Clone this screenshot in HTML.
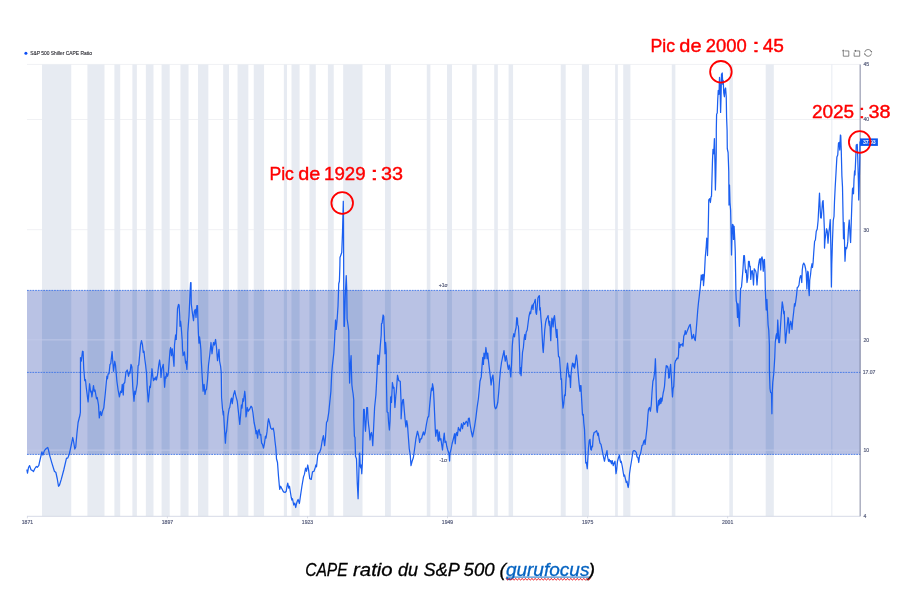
<!DOCTYPE html>
<html><head><meta charset="utf-8"><title>CAPE ratio du S&amp;P 500</title>
<style>html,body{margin:0;padding:0;background:#fff;}body{width:912px;height:601px;overflow:hidden;font-family:"Liberation Sans",sans-serif;}svg{display:block;will-change:transform;}text{font-family:"Liberation Sans",sans-serif;}</style></head><body>
<svg width="912" height="601" viewBox="0 0 912 601">
<rect width="912" height="601" fill="#fff"/>
<line x1="27.0" x2="860.3" y1="64.4" y2="64.4" stroke="#f0f1f4" stroke-width="1"/>
<line x1="27.0" x2="860.3" y1="119.5" y2="119.5" stroke="#f0f1f4" stroke-width="1"/>
<line x1="27.0" x2="860.3" y1="229.7" y2="229.7" stroke="#f0f1f4" stroke-width="1"/>
<line x1="27.0" x2="860.3" y1="339.9" y2="339.9" stroke="#f0f1f4" stroke-width="1"/>
<line x1="27.0" x2="860.3" y1="450.1" y2="450.1" stroke="#f0f1f4" stroke-width="1"/>
<g>
<rect x="42.02" y="64.4" width="29.22" height="451.9" fill="#e7ebf2"/>
<rect x="87.42" y="64.4" width="17.08" height="451.9" fill="#e7ebf2"/>
<rect x="114.39" y="64.4" width="5.84" height="451.9" fill="#e7ebf2"/>
<rect x="132.37" y="64.4" width="4.49" height="451.9" fill="#e7ebf2"/>
<rect x="145.85" y="64.4" width="7.64" height="451.9" fill="#e7ebf2"/>
<rect x="161.59" y="64.4" width="8.09" height="451.9" fill="#e7ebf2"/>
<rect x="180.46" y="64.4" width="8.09" height="451.9" fill="#e7ebf2"/>
<rect x="198.00" y="64.4" width="10.34" height="451.9" fill="#e7ebf2"/>
<rect x="223.17" y="64.4" width="5.84" height="451.9" fill="#e7ebf2"/>
<rect x="237.55" y="64.4" width="10.79" height="451.9" fill="#e7ebf2"/>
<rect x="253.73" y="64.4" width="10.34" height="451.9" fill="#e7ebf2"/>
<rect x="283.85" y="64.4" width="3.15" height="451.9" fill="#e7ebf2"/>
<rect x="291.49" y="64.4" width="8.09" height="451.9" fill="#e7ebf2"/>
<rect x="309.47" y="64.4" width="6.29" height="451.9" fill="#e7ebf2"/>
<rect x="327.90" y="64.4" width="5.84" height="451.9" fill="#e7ebf2"/>
<rect x="343.18" y="64.4" width="19.33" height="451.9" fill="#e7ebf2"/>
<rect x="384.99" y="64.4" width="5.84" height="451.9" fill="#e7ebf2"/>
<rect x="426.79" y="64.4" width="3.60" height="451.9" fill="#e7ebf2"/>
<rect x="447.02" y="64.4" width="4.94" height="451.9" fill="#e7ebf2"/>
<rect x="472.19" y="64.4" width="4.49" height="451.9" fill="#e7ebf2"/>
<rect x="494.22" y="64.4" width="3.60" height="451.9" fill="#e7ebf2"/>
<rect x="508.60" y="64.4" width="4.49" height="451.9" fill="#e7ebf2"/>
<rect x="560.74" y="64.4" width="4.94" height="451.9" fill="#e7ebf2"/>
<rect x="581.87" y="64.4" width="7.19" height="451.9" fill="#e7ebf2"/>
<rect x="615.13" y="64.4" width="2.70" height="451.9" fill="#e7ebf2"/>
<rect x="623.22" y="64.4" width="7.19" height="451.9" fill="#e7ebf2"/>
<rect x="671.77" y="64.4" width="3.60" height="451.9" fill="#e7ebf2"/>
<rect x="729.30" y="64.4" width="3.60" height="451.9" fill="#e7ebf2"/>
<rect x="765.71" y="64.4" width="8.09" height="451.9" fill="#e7ebf2"/>
<rect x="831.34" y="64.4" width="1.00" height="451.9" fill="#e7ebf2"/>
</g>
<rect x="27.0" y="290.4" width="833.3" height="164.0" fill="#b9c2e4"/>
<rect x="42.02" y="290.4" width="29.22" height="164.0" fill="#a4b4dc"/>
<rect x="87.42" y="290.4" width="17.08" height="164.0" fill="#a4b4dc"/>
<rect x="114.39" y="290.4" width="5.84" height="164.0" fill="#a4b4dc"/>
<rect x="132.37" y="290.4" width="4.49" height="164.0" fill="#a4b4dc"/>
<rect x="145.85" y="290.4" width="7.64" height="164.0" fill="#a4b4dc"/>
<rect x="161.59" y="290.4" width="8.09" height="164.0" fill="#a4b4dc"/>
<rect x="180.46" y="290.4" width="8.09" height="164.0" fill="#a4b4dc"/>
<rect x="198.00" y="290.4" width="10.34" height="164.0" fill="#a4b4dc"/>
<rect x="223.17" y="290.4" width="5.84" height="164.0" fill="#a4b4dc"/>
<rect x="237.55" y="290.4" width="10.79" height="164.0" fill="#a4b4dc"/>
<rect x="253.73" y="290.4" width="10.34" height="164.0" fill="#a4b4dc"/>
<rect x="283.85" y="290.4" width="3.15" height="164.0" fill="#a4b4dc"/>
<rect x="291.49" y="290.4" width="8.09" height="164.0" fill="#a4b4dc"/>
<rect x="309.47" y="290.4" width="6.29" height="164.0" fill="#a4b4dc"/>
<rect x="327.90" y="290.4" width="5.84" height="164.0" fill="#a4b4dc"/>
<rect x="343.18" y="290.4" width="19.33" height="164.0" fill="#a4b4dc"/>
<rect x="384.99" y="290.4" width="5.84" height="164.0" fill="#a4b4dc"/>
<rect x="426.79" y="290.4" width="3.60" height="164.0" fill="#a4b4dc"/>
<rect x="447.02" y="290.4" width="4.94" height="164.0" fill="#a4b4dc"/>
<rect x="472.19" y="290.4" width="4.49" height="164.0" fill="#a4b4dc"/>
<rect x="494.22" y="290.4" width="3.60" height="164.0" fill="#a4b4dc"/>
<rect x="508.60" y="290.4" width="4.49" height="164.0" fill="#a4b4dc"/>
<rect x="560.74" y="290.4" width="4.94" height="164.0" fill="#a4b4dc"/>
<rect x="581.87" y="290.4" width="7.19" height="164.0" fill="#a4b4dc"/>
<rect x="615.13" y="290.4" width="2.70" height="164.0" fill="#a4b4dc"/>
<rect x="623.22" y="290.4" width="7.19" height="164.0" fill="#a4b4dc"/>
<rect x="671.77" y="290.4" width="3.60" height="164.0" fill="#a4b4dc"/>
<rect x="729.30" y="290.4" width="3.60" height="164.0" fill="#a4b4dc"/>
<rect x="765.71" y="290.4" width="8.09" height="164.0" fill="#a4b4dc"/>
<rect x="831.34" y="290.4" width="1.00" height="164.0" fill="#a4b4dc"/>
<line x1="27.0" x2="860.3" y1="339.9" y2="339.9" stroke="#c2cae9" stroke-width="0.9"/>
<line x1="27.0" x2="860.3" y1="450.1" y2="450.1" stroke="#c2cae9" stroke-width="0.9"/>
<line x1="27.0" x2="860.3" y1="290.4" y2="290.4" stroke="#3d74e6" stroke-width="0.9" stroke-dasharray="1.75 0.96"/>
<line x1="27.0" x2="860.3" y1="372.4" y2="372.4" stroke="#3d74e6" stroke-width="0.9" stroke-dasharray="1.75 0.96"/>
<line x1="27.0" x2="860.3" y1="454.4" y2="454.4" stroke="#3d74e6" stroke-width="0.9" stroke-dasharray="1.75 0.96"/>
<line x1="27.0" x2="860.3" y1="516.3" y2="516.3" stroke="#d6dae6" stroke-width="1"/>
<line x1="860.2" x2="860.2" y1="64.4" y2="516.3" stroke="#666c8c" stroke-opacity="0.62" stroke-width="1.3"/>
<line x1="27.4" x2="27.4" y1="516.3" y2="518.3" stroke="#c9cddb" stroke-width="0.7"/>
<text x="27.4" y="524.2" font-size="5.1" fill="#5a607e" stroke="#5a607e" stroke-width="0.18" text-anchor="middle">1871</text>
<line x1="167.4" x2="167.4" y1="516.3" y2="518.3" stroke="#c9cddb" stroke-width="0.7"/>
<text x="167.4" y="524.2" font-size="5.1" fill="#5a607e" stroke="#5a607e" stroke-width="0.18" text-anchor="middle">1897</text>
<line x1="307.5" x2="307.5" y1="516.3" y2="518.3" stroke="#c9cddb" stroke-width="0.7"/>
<text x="307.5" y="524.2" font-size="5.1" fill="#5a607e" stroke="#5a607e" stroke-width="0.18" text-anchor="middle">1923</text>
<line x1="447.5" x2="447.5" y1="516.3" y2="518.3" stroke="#c9cddb" stroke-width="0.7"/>
<text x="447.5" y="524.2" font-size="5.1" fill="#5a607e" stroke="#5a607e" stroke-width="0.18" text-anchor="middle">1949</text>
<line x1="587.6" x2="587.6" y1="516.3" y2="518.3" stroke="#c9cddb" stroke-width="0.7"/>
<text x="587.6" y="524.2" font-size="5.1" fill="#5a607e" stroke="#5a607e" stroke-width="0.18" text-anchor="middle">1975</text>
<line x1="727.6" x2="727.6" y1="516.3" y2="518.3" stroke="#c9cddb" stroke-width="0.7"/>
<text x="727.6" y="524.2" font-size="5.1" fill="#5a607e" stroke="#5a607e" stroke-width="0.18" text-anchor="middle">2001</text>
<text x="863.5" y="66.2" font-size="5.1" fill="#5a607e" stroke="#5a607e" stroke-width="0.18">45</text>
<text x="863.5" y="121.3" font-size="5.1" fill="#5a607e" stroke="#5a607e" stroke-width="0.18">40</text>
<text x="863.5" y="231.5" font-size="5.1" fill="#5a607e" stroke="#5a607e" stroke-width="0.18">30</text>
<text x="863.5" y="341.7" font-size="5.1" fill="#5a607e" stroke="#5a607e" stroke-width="0.18">20</text>
<text x="863.5" y="451.9" font-size="5.1" fill="#5a607e" stroke="#5a607e" stroke-width="0.18">10</text>
<text x="863.5" y="518.0" font-size="5.1" fill="#5a607e" stroke="#5a607e" stroke-width="0.18">4</text>
<text x="862.7" y="374.2" font-size="5.1" fill="#5a607e" stroke="#5a607e" stroke-width="0.18">17.07</text>
<text x="438.7" y="287.3" font-size="5.1" fill="#5a607e" stroke="#5a607e" stroke-width="0.18">+1σ</text>
<text x="439.4" y="461.6" font-size="5.1" fill="#5a607e" stroke="#5a607e" stroke-width="0.18">-1σ</text>
<path d="M26.90,470.00 L27.50,473.10 L28.50,467.50 L29.60,465.60 L31.00,469.75 L32.50,470.60 L33.50,471.50 L34.75,468.75 L36.25,466.50 L37.25,467.25 L38.75,465.60 L40.00,460.00 L41.90,451.90 L42.90,455.00 L44.40,450.60 L46.25,448.50 L47.75,447.50 L48.50,450.00 L49.75,455.60 L51.90,463.10 L54.40,471.25 L55.90,472.50 L57.25,478.75 L58.50,486.25 L59.50,485.00 L61.25,479.40 L63.75,470.00 L66.50,458.10 L67.75,458.10 L69.40,453.75 L71.25,445.00 L72.75,437.50 L73.75,442.50 L74.75,449.00 L75.75,446.90 L76.90,433.75 L78.10,422.50 L80.00,415.00 L80.40,412.00 L80.50,357.50 L81.25,361.25 L82.50,351.25 L83.10,351.50 L83.75,368.75 L84.75,380.60 L85.50,379.75 L86.25,387.50 L88.10,401.90 L89.60,383.75 L90.60,391.90 L91.25,391.25 L91.90,396.90 L93.50,385.60 L94.25,391.25 L95.00,390.00 L96.50,398.75 L97.25,397.50 L98.50,405.00 L99.30,418.00 L100.40,411.50 L101.50,415.50 L102.50,411.25 L103.75,408.10 L105.25,393.75 L106.90,376.25 L107.50,378.75 L108.10,373.75 L109.00,373.75 L110.00,364.40 L110.75,363.75 L112.10,351.50 L113.50,371.25 L114.75,361.25 L115.50,365.00 L116.90,381.25 L118.10,390.00 L119.40,396.90 L120.60,391.25 L121.50,392.50 L122.25,384.40 L123.25,395.00 L123.75,383.75 L124.75,382.50 L126.00,371.90 L127.25,370.00 L128.50,376.25 L129.50,371.90 L130.00,373.10 L131.00,364.40 L131.90,366.90 L132.75,386.25 L134.00,401.25 L134.75,391.25 L135.25,394.40 L136.25,389.40 L137.25,383.75 L138.10,365.60 L138.75,365.00 L139.75,353.75 L140.60,344.40 L141.50,340.60 L142.50,345.00 L143.25,352.50 L144.00,351.25 L144.75,358.75 L145.60,365.00 L146.50,373.10 L147.25,388.75 L148.25,401.90 L149.00,395.00 L149.75,386.25 L150.40,387.50 L151.25,377.50 L152.00,368.75 L152.75,376.25 L153.50,380.60 L154.40,378.10 L155.00,379.75 L155.90,376.90 L156.50,380.00 L157.50,375.00 L158.75,365.00 L159.60,360.00 L160.40,366.90 L161.00,377.50 L161.90,368.75 L163.25,364.40 L164.00,376.25 L164.60,387.25 L165.40,376.90 L166.00,378.10 L166.60,373.10 L167.50,376.25 L168.25,373.75 L169.10,362.50 L170.00,350.60 L170.60,347.50 L171.50,355.60 L172.25,348.75 L173.10,356.25 L174.00,366.25 L174.50,345.00 L175.60,335.00 L176.25,339.40 L176.90,325.00 L177.50,308.75 L178.50,304.40 L179.10,305.00 L179.75,316.25 L180.00,326.25 L180.60,321.25 L181.25,327.50 L182.25,341.25 L182.50,348.75 L183.10,355.60 L184.40,351.90 L185.60,363.10 L186.00,361.25 L186.90,369.40 L187.50,356.25 L187.75,332.50 L189.00,316.25 L190.00,293.75 L190.60,282.50 L191.00,282.50 L191.25,303.75 L192.50,313.75 L193.50,320.60 L194.40,311.25 L195.25,309.40 L196.00,317.50 L196.90,305.60 L197.50,305.60 L197.90,318.75 L198.40,333.75 L199.00,343.10 L199.50,336.90 L200.25,342.50 L200.90,350.00 L201.25,360.00 L202.25,377.50 L203.10,391.25 L204.10,384.40 L205.00,394.40 L205.75,390.00 L206.50,389.40 L207.50,380.00 L208.50,365.00 L209.75,355.00 L211.00,342.50 L212.00,353.75 L212.75,347.50 L213.50,342.50 L214.40,345.00 L215.60,339.50 L216.50,347.50 L217.50,360.60 L219.00,349.40 L219.60,361.25 L220.60,366.25 L221.25,372.50 L221.60,397.50 L222.50,408.75 L223.25,415.00 L223.50,411.25 L224.50,428.75 L225.40,443.10 L226.00,433.75 L226.60,431.25 L227.90,416.25 L229.10,408.75 L229.75,407.50 L231.00,399.40 L231.60,398.10 L232.25,403.75 L233.50,395.00 L234.75,390.60 L235.75,395.60 L237.25,401.25 L238.50,412.50 L239.75,424.40 L240.60,415.00 L241.40,405.00 L242.00,408.10 L242.90,398.75 L243.50,401.25 L244.75,391.25 L245.40,397.50 L246.00,416.90 L246.60,413.75 L247.25,407.50 L248.25,411.25 L249.50,409.40 L251.00,406.25 L252.00,407.50 L252.90,412.50 L254.10,422.50 L255.40,428.75 L256.00,433.75 L256.60,430.60 L257.60,438.10 L258.25,431.25 L259.10,429.40 L260.00,435.00 L260.75,434.40 L261.60,443.10 L262.50,444.40 L263.50,448.10 L264.50,443.10 L265.40,436.25 L266.00,438.10 L267.00,431.90 L267.90,422.50 L268.50,418.75 L269.50,422.50 L270.75,428.10 L272.00,429.40 L273.25,428.10 L274.10,432.50 L275.00,441.25 L275.90,448.75 L276.50,458.75 L277.50,462.50 L278.50,476.25 L279.40,486.25 L279.75,489.40 L280.60,486.25 L281.90,488.75 L283.50,491.90 L285.00,492.50 L286.25,491.25 L286.90,486.90 L287.75,483.10 L288.75,488.10 L289.50,486.25 L290.25,491.25 L291.25,497.50 L291.90,500.00 L292.50,498.75 L293.75,505.00 L294.75,503.10 L295.75,507.50 L296.50,503.75 L297.25,501.25 L298.10,499.40 L299.40,503.50 L300.60,495.00 L301.90,486.25 L303.50,476.90 L304.40,474.40 L305.60,468.10 L306.50,471.25 L307.75,465.00 L308.50,469.40 L309.75,478.75 L311.25,479.40 L312.50,471.90 L314.00,471.25 L315.25,467.50 L315.90,465.00 L316.50,466.90 L317.75,455.00 L318.75,453.10 L319.60,452.50 L320.90,448.75 L322.10,441.25 L323.40,435.60 L324.60,445.60 L325.50,437.50 L326.50,422.50 L327.50,420.60 L328.75,412.50 L329.00,410.00 L330.90,391.25 L331.75,372.50 L332.50,364.40 L333.75,353.75 L334.50,342.00 L335.50,320.00 L336.25,329.40 L337.10,320.00 L338.00,306.25 L338.75,283.75 L339.40,281.25 L339.90,265.00 L340.00,257.50 L340.90,255.00 L341.75,252.50 L342.50,232.50 L343.30,201.25 L343.50,220.00 L343.75,290.00 L344.00,326.25 L344.40,326.25 L345.25,296.25 L346.25,275.60 L346.75,290.00 L347.10,318.75 L348.00,325.00 L348.75,331.25 L349.00,351.25 L349.60,383.10 L350.25,366.25 L351.10,355.60 L351.50,372.50 L351.90,385.00 L352.50,390.00 L353.10,393.75 L353.75,400.00 L353.75,416.25 L354.40,436.25 L355.00,437.50 L355.50,456.25 L356.50,458.75 L357.25,482.50 L358.10,498.75 L358.75,476.25 L359.40,453.75 L359.75,453.10 L360.25,466.25 L360.90,468.10 L361.25,465.00 L361.75,473.75 L362.40,462.50 L363.00,435.00 L363.60,409.40 L364.25,409.40 L365.00,425.00 L365.50,431.25 L366.25,418.75 L366.75,407.50 L367.50,407.50 L368.00,418.75 L368.60,425.00 L369.25,430.00 L370.00,440.00 L370.90,433.75 L371.50,432.50 L372.10,436.25 L372.75,445.60 L373.75,425.00 L374.60,407.50 L375.90,395.00 L376.90,376.25 L377.75,355.00 L378.40,355.60 L378.75,364.40 L379.40,358.75 L380.25,346.25 L381.20,335.00 L381.50,323.75 L382.10,323.10 L383.10,315.00 L383.75,316.25 L384.25,330.00 L385.00,353.75 L385.60,342.50 L386.25,351.25 L386.50,385.00 L386.90,405.00 L387.10,411.90 L388.00,412.50 L388.60,422.50 L389.40,430.00 L390.00,421.25 L390.50,406.25 L390.60,397.50 L391.25,396.25 L391.50,402.50 L392.40,382.50 L393.40,388.10 L394.00,387.50 L394.90,407.50 L395.90,395.00 L396.25,392.50 L397.50,375.25 L398.75,380.60 L400.25,381.25 L401.10,402.50 L401.10,418.75 L401.90,406.25 L402.75,400.00 L403.40,399.40 L404.25,410.00 L405.00,418.75 L405.90,426.90 L406.75,420.60 L407.50,425.00 L408.40,437.50 L409.25,448.75 L410.25,455.00 L411.00,465.60 L412.10,461.25 L413.40,457.50 L414.60,448.75 L415.90,438.75 L417.50,431.25 L418.75,436.25 L419.60,442.50 L420.50,438.75 L421.50,438.75 L422.50,435.00 L423.40,431.90 L424.25,435.00 L425.00,433.10 L426.50,423.75 L427.75,417.50 L428.75,416.25 L429.60,406.25 L430.90,392.50 L431.50,388.10 L432.10,390.50 L432.50,383.75 L433.40,388.50 L434.00,400.00 L434.60,413.75 L435.25,428.75 L435.75,436.25 L436.50,430.00 L437.10,432.50 L437.50,430.00 L438.00,440.00 L438.50,441.25 L439.25,431.90 L440.00,440.00 L440.90,438.75 L441.75,445.00 L442.50,450.00 L443.40,440.00 L444.25,433.10 L445.00,442.50 L445.90,441.25 L446.75,446.25 L447.75,450.00 L449.00,453.75 L449.60,461.00 L450.00,453.10 L450.90,450.00 L452.10,443.75 L453.40,438.75 L454.60,433.75 L455.25,443.75 L456.00,433.75 L456.75,432.50 L457.40,435.60 L458.40,427.50 L459.25,429.40 L460.25,431.25 L461.50,423.75 L462.50,428.75 L463.50,422.50 L464.60,424.40 L466.25,421.25 L467.10,422.50 L467.75,426.25 L468.40,418.50 L469.25,418.10 L470.00,423.75 L471.25,431.25 L472.50,436.90 L473.40,432.50 L474.60,426.25 L475.90,417.50 L477.10,407.50 L478.40,398.75 L479.25,390.00 L480.00,381.25 L481.25,376.90 L482.10,365.00 L482.75,357.50 L483.40,364.40 L484.00,353.10 L484.90,358.75 L485.90,347.50 L486.50,352.50 L487.10,358.75 L487.75,353.10 L488.40,360.00 L489.25,367.50 L490.25,376.25 L491.10,385.00 L492.10,377.50 L493.00,375.00 L493.75,385.00 L494.00,397.50 L494.60,406.25 L495.50,408.75 L496.50,407.50 L497.75,402.50 L498.75,392.00 L499.60,380.00 L500.50,370.00 L501.50,362.50 L502.50,357.50 L503.40,353.75 L504.00,350.60 L504.60,356.25 L505.25,361.25 L506.25,355.60 L506.90,360.00 L507.75,366.25 L508.40,369.40 L509.25,365.00 L510.00,368.75 L510.75,376.90 L511.50,365.00 L512.25,346.25 L513.00,337.50 L513.75,333.75 L514.50,336.90 L515.25,331.25 L516.10,327.50 L516.75,317.75 L517.40,318.10 L517.75,325.00 L518.40,326.25 L519.00,336.25 L519.60,352.50 L520.00,373.75 L520.50,367.50 L521.10,375.60 L521.75,365.00 L522.50,352.50 L523.40,347.50 L524.20,338.00 L524.80,334.50 L525.40,339.40 L526.20,332.20 L527.20,330.00 L528.10,323.00 L529.00,316.25 L530.00,311.90 L530.60,313.75 L531.50,307.50 L532.25,305.00 L533.00,309.40 L533.50,303.75 L534.40,302.50 L535.25,299.40 L535.90,312.50 L536.50,314.40 L537.25,306.25 L537.90,298.10 L538.75,296.25 L539.40,295.60 L539.75,310.00 L540.25,307.50 L540.90,317.50 L541.50,323.75 L542.10,335.00 L542.75,347.50 L543.25,352.50 L544.00,341.25 L544.75,330.00 L545.60,322.50 L546.50,318.75 L547.25,317.50 L548.10,315.60 L548.75,322.50 L549.40,325.60 L549.75,321.25 L550.25,331.25 L550.75,340.60 L551.25,328.75 L551.90,318.10 L552.50,320.00 L553.10,326.90 L553.75,318.10 L554.50,315.60 L555.25,323.75 L556.00,332.50 L556.50,337.50 L557.00,329.40 L557.50,337.50 L558.10,350.00 L558.50,356.25 L559.50,357.50 L560.25,368.75 L561.00,379.40 L561.50,378.75 L562.25,397.50 L563.00,408.10 L563.75,403.75 L564.50,395.00 L565.25,395.60 L566.00,380.00 L566.75,369.40 L567.50,363.10 L568.25,370.00 L569.00,376.90 L569.50,375.00 L570.00,378.10 L570.50,387.50 L571.00,375.00 L571.75,367.50 L572.50,363.10 L573.50,366.90 L574.00,363.75 L574.50,368.10 L575.25,364.40 L575.90,357.50 L576.50,355.00 L577.25,361.25 L578.00,371.25 L578.75,380.00 L579.50,387.50 L580.00,391.25 L580.50,385.60 L581.00,385.60 L581.25,392.50 L581.90,403.75 L582.50,415.00 L583.25,414.40 L583.75,422.50 L584.50,429.40 L585.10,445.00 L585.75,463.10 L586.40,462.50 L587.25,468.75 L587.90,457.50 L588.50,447.50 L589.25,440.60 L590.00,439.40 L590.75,449.40 L591.40,450.00 L591.90,446.25 L592.50,446.90 L593.25,436.25 L594.10,432.50 L595.40,431.90 L596.60,430.60 L597.25,433.10 L597.90,435.60 L598.25,433.10 L599.10,438.75 L600.00,443.10 L601.00,444.40 L602.25,450.60 L603.50,456.90 L604.50,461.25 L605.40,456.25 L606.25,453.75 L607.00,450.60 L607.50,456.25 L608.50,461.25 L609.25,459.40 L610.00,461.90 L610.75,460.60 L611.50,463.75 L612.25,460.60 L613.25,465.60 L614.10,463.10 L615.00,461.25 L615.50,467.50 L616.00,473.75 L616.60,470.00 L617.50,461.25 L618.50,457.50 L619.50,455.00 L620.10,460.00 L620.75,462.50 L621.25,461.25 L622.25,466.25 L623.25,472.50 L623.90,476.25 L624.50,475.00 L625.40,478.75 L626.25,482.50 L627.00,481.25 L627.60,485.00 L628.25,487.50 L628.90,482.50 L629.50,473.75 L630.40,467.50 L631.25,462.50 L632.25,456.25 L633.00,451.25 L634.10,450.60 L635.40,451.25 L636.25,452.50 L637.00,456.90 L637.90,457.50 L638.75,462.50 L639.50,455.60 L640.40,454.40 L641.25,450.00 L642.00,445.60 L642.90,445.00 L643.75,441.25 L644.50,440.00 L645.10,444.40 L645.75,438.75 L646.60,431.25 L647.25,425.00 L647.90,415.00 L648.50,409.40 L649.50,407.50 L650.40,411.25 L651.25,405.00 L652.00,392.50 L652.90,381.25 L653.75,378.75 L654.75,371.25 L655.40,358.75 L655.75,368.75 L656.25,393.75 L656.75,410.00 L657.25,412.50 L657.90,406.25 L658.50,400.60 L659.00,405.00 L659.50,399.40 L660.00,403.75 L660.50,398.10 L661.00,403.10 L661.50,398.10 L662.00,401.25 L662.50,397.50 L663.25,392.50 L663.75,390.60 L664.50,386.25 L665.40,373.75 L666.25,365.60 L667.00,366.90 L667.50,366.25 L668.25,369.40 L668.75,378.10 L669.40,377.50 L670.00,368.75 L670.60,364.40 L671.25,375.00 L671.90,387.50 L672.50,396.90 L673.10,388.75 L673.75,386.25 L674.25,375.00 L674.75,363.75 L675.50,360.60 L676.25,360.00 L677.00,358.10 L677.90,358.75 L678.50,355.00 L679.00,342.50 L679.75,347.50 L680.60,344.40 L681.50,345.00 L682.25,343.75 L683.00,346.25 L683.75,336.25 L684.75,333.75 L685.25,330.60 L686.00,334.40 L686.90,331.90 L688.10,328.75 L689.40,325.60 L690.25,324.40 L691.00,330.60 L691.90,338.75 L692.75,337.50 L693.50,334.40 L694.40,338.75 L695.25,340.60 L696.00,332.50 L696.90,321.25 L697.75,310.00 L698.50,302.50 L699.40,295.00 L700.25,287.50 L701.25,275.00 L702.00,280.00 L702.50,275.00 L703.10,274.40 L703.50,285.60 L704.40,275.00 L705.25,257.50 L706.25,246.25 L706.75,238.10 L707.25,240.00 L707.50,255.60 L708.10,235.00 L708.50,215.00 L708.75,200.00 L709.75,198.75 L710.40,202.50 L711.00,196.90 L711.50,196.25 L712.00,177.50 L712.50,160.00 L713.00,149.40 L713.75,153.75 L714.40,138.60 L715.00,165.00 L715.40,190.00 L715.75,177.50 L716.25,152.50 L716.30,130.50 L716.60,114.25 L717.25,113.00 L717.75,99.25 L718.25,90.50 L719.00,94.25 L719.50,77.40 L720.00,84.25 L720.60,112.40 L721.00,99.25 L721.50,74.25 L722.25,73.00 L722.75,84.25 L723.25,80.50 L723.75,93.00 L724.40,96.75 L725.00,89.25 L725.60,88.00 L726.25,96.75 L726.60,118.00 L727.10,130.50 L727.30,148.75 L728.10,152.50 L728.75,171.25 L729.00,205.00 L729.50,185.00 L730.00,202.50 L730.60,210.00 L731.00,226.25 L731.50,255.00 L732.00,235.00 L732.50,224.40 L733.10,225.00 L733.50,239.40 L734.10,226.25 L734.75,238.75 L735.25,251.25 L735.60,272.50 L735.90,292.50 L736.25,300.60 L736.90,303.75 L737.50,317.50 L738.10,303.75 L738.75,317.50 L739.40,326.25 L740.00,305.00 L740.60,288.75 L741.50,286.90 L742.25,278.10 L743.00,268.75 L743.75,255.60 L744.40,255.60 L745.00,265.00 L745.60,272.50 L746.25,270.00 L747.00,282.50 L747.75,277.50 L748.50,261.25 L749.25,261.25 L749.75,266.90 L750.25,266.25 L750.75,279.40 L751.50,271.25 L752.25,270.60 L752.90,275.60 L753.50,285.00 L754.25,268.75 L755.00,270.00 L755.75,271.25 L756.25,273.75 L757.00,285.00 L757.75,275.00 L758.50,265.60 L759.40,260.00 L760.00,258.75 L760.75,270.00 L761.25,258.75 L762.00,256.90 L762.50,259.40 L763.25,271.25 L764.00,260.00 L764.50,259.40 L765.00,273.75 L765.25,287.50 L765.75,300.00 L766.25,310.00 L766.90,299.40 L767.50,312.50 L768.10,325.00 L768.75,330.00 L769.40,345.00 L769.40,370.00 L770.00,388.75 L770.60,392.50 L771.50,393.10 L771.90,413.75 L772.25,392.50 L772.75,382.50 L773.75,373.75 L774.75,357.50 L775.25,342.50 L776.00,336.25 L776.60,333.75 L777.10,338.75 L777.75,320.00 L778.25,330.00 L778.75,342.50 L779.50,342.50 L780.25,330.00 L781.25,315.00 L782.25,301.90 L783.00,306.25 L783.75,313.75 L784.25,311.25 L784.75,327.50 L785.50,343.10 L786.25,335.00 L787.25,325.00 L788.00,317.50 L788.50,318.75 L789.25,333.10 L790.00,325.00 L790.75,321.25 L791.50,325.00 L792.00,329.40 L792.75,320.00 L793.75,311.25 L794.50,303.75 L795.00,306.25 L795.75,301.25 L796.50,295.60 L797.25,287.50 L798.10,286.90 L799.00,285.00 L799.75,278.75 L800.60,275.60 L801.25,276.25 L801.75,282.50 L802.25,270.00 L802.90,265.00 L803.75,263.10 L804.75,265.00 L805.60,268.75 L806.25,273.75 L806.90,289.00 L807.25,280.00 L807.75,271.25 L808.25,272.50 L808.75,290.00 L809.25,295.60 L809.75,280.00 L810.50,275.00 L811.25,267.50 L812.00,263.75 L812.50,267.50 L813.10,262.50 L813.75,252.50 L814.60,241.25 L815.40,240.00 L816.25,231.25 L817.25,229.00 L818.10,220.50 L818.75,207.50 L819.50,193.10 L820.00,205.00 L820.60,217.80 L821.25,218.10 L821.90,210.00 L822.50,201.90 L823.10,200.60 L823.75,213.75 L824.40,230.00 L824.50,248.10 L825.00,240.00 L825.75,234.50 L826.50,228.75 L827.25,231.00 L828.00,243.10 L828.75,233.00 L829.50,227.50 L830.25,219.50 L830.90,250.00 L831.40,287.00 L831.75,265.00 L832.50,240.00 L833.25,220.50 L834.00,216.50 L834.50,201.25 L835.25,186.00 L836.00,173.00 L836.90,156.90 L837.75,155.00 L838.50,143.10 L839.25,142.50 L839.75,150.00 L840.40,135.00 L840.75,135.60 L841.25,150.00 L841.90,176.00 L842.50,187.00 L843.10,218.00 L843.50,238.75 L844.10,222.50 L844.60,246.25 L845.00,261.25 L845.75,247.50 L846.50,248.75 L847.25,246.00 L847.75,241.90 L848.50,228.00 L849.25,220.00 L850.00,234.50 L850.60,242.50 L851.25,222.50 L851.90,202.50 L852.50,188.75 L853.10,187.80 L853.50,193.75 L854.00,179.50 L854.60,171.00 L855.00,175.00 L855.60,161.25 L856.25,145.00 L857.25,144.40 L857.75,157.50 L858.40,181.00 L858.75,200.00 L859.25,182.50 L859.75,160.00 L860.00,141.80" fill="none" stroke="#1b5ff0" stroke-width="1.25" stroke-linejoin="round" stroke-linecap="round"/>
<rect x="860.0" y="138.4" width="17.9" height="7.5" fill="#0c56ee"/>
<text x="869.2" y="144" font-size="5" fill="#fff" stroke="#fff" stroke-width="0.15" text-anchor="middle">37.93</text>
<circle cx="25.9" cy="53.3" r="1.5" fill="#0a4df5"/>
<text x="30.2" y="55.1" font-size="5" fill="#2b2b33" stroke="#2b2b33" stroke-width="0.12" textLength="61.7" lengthAdjust="spacingAndGlyphs">S&amp;P 500 Shiller CAPE Ratio</text>
<g fill="none" stroke="#5f5f5f" stroke-width="0.75">
<path d="M843.3,52.0 V56.2 H848.8 V50.95 H845.0"/><path d="M842.1,50.8 H844.5 M843.3,49.7 V51.9"/>
<path d="M854.15,52.4 V56.2 H859.7 V50.95 H856.0"/><path d="M853.9,50.9 L856,49.8 L856,52 Z" fill="#5f5f5f" stroke="none"/>
<path d="M864.73,52.18 A3.45,3.45 0 0 1 871.47,52.18"/><path d="M871.47,53.62 A3.45,3.45 0 0 1 864.73,53.62"/>
<path d="M870.57,51.28 L872.17,51.28 L871.47,52.68 Z M865.63,54.52 L864.03,54.52 L864.73,53.12 Z" fill="#5f5f5f" stroke="none"/>
</g>
<text x="269.38" y="180.0" font-size="19" fill="#fe0000" stroke="#fe0000" stroke-width="0.4" textLength="24.51" lengthAdjust="spacingAndGlyphs">Pic</text>
<text x="298.19" y="180.0" font-size="19" fill="#fe0000" stroke="#fe0000" stroke-width="0.4" textLength="22.04" lengthAdjust="spacingAndGlyphs">de</text>
<text x="324.03" y="180.0" font-size="19" fill="#fe0000" stroke="#fe0000" stroke-width="0.4" textLength="41.53" lengthAdjust="spacingAndGlyphs">1929</text>
<text x="370.54" y="180.0" font-size="19" fill="#fe0000" stroke="#fe0000" stroke-width="0.4" textLength="7.69" lengthAdjust="spacingAndGlyphs">:</text>
<text x="381.14" y="180.0" font-size="19" fill="#fe0000" stroke="#fe0000" stroke-width="0.4" textLength="22.00" lengthAdjust="spacingAndGlyphs">33</text>
<circle cx="342.2" cy="203.0" r="10.8" fill="none" stroke="#fe0000" stroke-width="1.8"/>
<text x="650.60" y="51.7" font-size="19" fill="#fe0000" stroke="#fe0000" stroke-width="0.4" textLength="24.50" lengthAdjust="spacingAndGlyphs">Pic</text>
<text x="679.38" y="51.7" font-size="19" fill="#fe0000" stroke="#fe0000" stroke-width="0.4" textLength="22.20" lengthAdjust="spacingAndGlyphs">de</text>
<text x="705.85" y="51.7" font-size="19" fill="#fe0000" stroke="#fe0000" stroke-width="0.4" textLength="40.96" lengthAdjust="spacingAndGlyphs">2000</text>
<text x="752.18" y="51.7" font-size="19" fill="#fe0000" stroke="#fe0000" stroke-width="0.4" textLength="7.44" lengthAdjust="spacingAndGlyphs">:</text>
<text x="762.74" y="51.7" font-size="19" fill="#fe0000" stroke="#fe0000" stroke-width="0.4" textLength="21.28" lengthAdjust="spacingAndGlyphs">45</text>
<circle cx="720.9" cy="71.8" r="10.8" fill="none" stroke="#fe0000" stroke-width="1.8"/>
<text x="811.90" y="118.4" font-size="19" fill="#fe0000" stroke="#fe0000" stroke-width="0.4" textLength="42.23" lengthAdjust="spacingAndGlyphs">2025</text>
<text x="859.09" y="118.4" font-size="19" fill="#fe0000" stroke="#fe0000" stroke-width="0.4" textLength="5.76" lengthAdjust="spacingAndGlyphs">:</text>
<text x="868.60" y="118.4" font-size="19" fill="#fe0000" stroke="#fe0000" stroke-width="0.4" textLength="22.05" lengthAdjust="spacingAndGlyphs">38</text>
<circle cx="859.7" cy="142.0" r="10.8" fill="none" stroke="#fe0000" stroke-width="1.8"/>
<g font-size="18.4" font-style="italic">
<text x="305.2" y="575.8" fill="#000" stroke="#000" stroke-width="0.3" textLength="42.4" lengthAdjust="spacingAndGlyphs">CAPE</text>
<text x="353.1" y="575.8" fill="#000" stroke="#000" stroke-width="0.3" textLength="39.5" lengthAdjust="spacingAndGlyphs">ratio</text>
<text x="398.1" y="575.8" fill="#000" stroke="#000" stroke-width="0.3" textLength="20.0" lengthAdjust="spacingAndGlyphs">du</text>
<text x="423.6" y="575.8" fill="#000" stroke="#000" stroke-width="0.3" textLength="36.2" lengthAdjust="spacingAndGlyphs">S&amp;P</text>
<text x="463.6" y="575.8" fill="#000" stroke="#000" stroke-width="0.3" textLength="31.0" lengthAdjust="spacingAndGlyphs">500</text>
<text x="499.6" y="575.8" fill="#000" stroke="#000" stroke-width="0.3" textLength="6.4" lengthAdjust="spacingAndGlyphs">(</text>
<text x="505.9" y="575.8" fill="#0563c1" stroke="#0563c1" stroke-width="0.3" textLength="83.5" lengthAdjust="spacingAndGlyphs">gurufocus</text>
<text x="588.6" y="575.8" fill="#000" stroke="#000" stroke-width="0.3" textLength="6.6" lengthAdjust="spacingAndGlyphs">)</text>
</g>
<line x1="506.3" x2="589" y1="577.1" y2="577.1" stroke="#0563c1" stroke-width="0.9"/>
<path d="M506,578.3 q1.62,3.4 3.24,0 q1.62,3.4 3.24,0 q1.62,3.4 3.24,0 q1.62,3.4 3.24,0 q1.62,3.4 3.24,0 q1.62,3.4 3.24,0 q1.62,3.4 3.24,0 q1.62,3.4 3.24,0 q1.62,3.4 3.24,0 q1.62,3.4 3.24,0 q1.62,3.4 3.24,0 q1.62,3.4 3.24,0 q1.62,3.4 3.24,0 q1.62,3.4 3.24,0 q1.62,3.4 3.24,0 q1.62,3.4 3.24,0 q1.62,3.4 3.24,0 q1.62,3.4 3.24,0 q1.62,3.4 3.24,0 q1.62,3.4 3.24,0 q1.62,3.4 3.24,0 q1.62,3.4 3.24,0 q1.62,3.4 3.24,0 q1.62,3.4 3.24,0 q1.62,3.4 3.24,0 q1.62,3.4 3.24,0" fill="none" stroke="#e81c24" stroke-width="0.95"/>
</svg></body></html>
